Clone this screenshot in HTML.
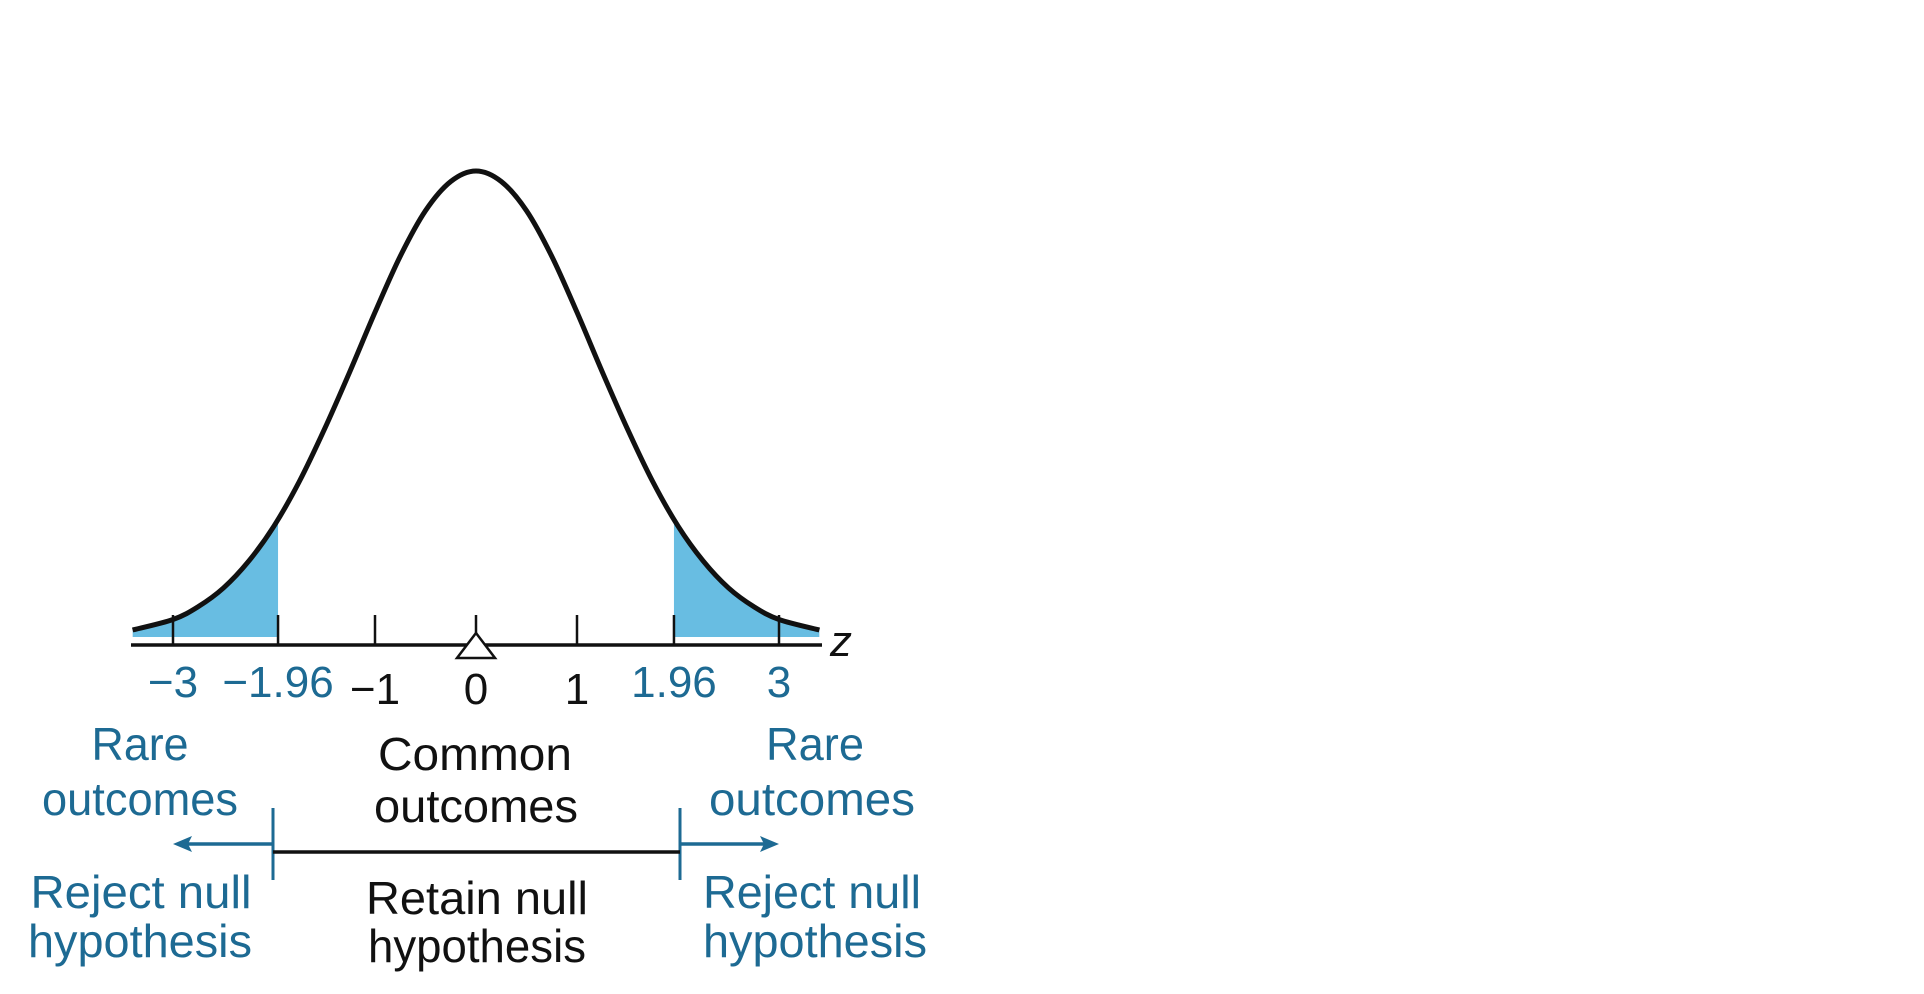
<!DOCTYPE html>
<html><head><meta charset="utf-8"><style>
html,body{margin:0;padding:0;background:#fff;width:1924px;height:994px;overflow:hidden}
svg{display:block}
text{font-family:"Liberation Sans",sans-serif}
.b{fill:#1d6a93}.k{fill:#111}
</style></head><body>
<svg id="chart" width="1924" height="994" viewBox="0 0 1924 994">
<defs><clipPath id="under"><path id="underPath" d=""/></clipPath></defs>
<g id="shade" clip-path="url(#under)"></g>
<path id="curve" fill="none" stroke="#111" stroke-width="5" d=""/>
<line x1="131" y1="645" x2="822" y2="645" stroke="#111" stroke-width="3.5"/>
<g id="ticks"></g>
<polygon points="476,633 457,658 495,658" fill="#fff" stroke="#111" stroke-width="2.5"/>
<text x="830" y="656" font-size="44" font-style="italic" class="k">z</text>
<g id="labels"></g>

<g text-anchor="middle" font-size="46">
<text class="b" x="140" y="760" textLength="97" lengthAdjust="spacingAndGlyphs">Rare</text>
<text class="b" x="140" y="815" textLength="196" lengthAdjust="spacingAndGlyphs">outcomes</text>
<text class="b" x="141" y="908" textLength="221" lengthAdjust="spacingAndGlyphs">Reject null</text>
<text class="b" x="140" y="957" textLength="224" lengthAdjust="spacingAndGlyphs">hypothesis</text>
</g>
<g text-anchor="middle" font-size="46">
<text class="k" x="475" y="770" textLength="194" lengthAdjust="spacingAndGlyphs">Common</text>
<text class="k" x="476" y="822" textLength="204" lengthAdjust="spacingAndGlyphs">outcomes</text>
<text class="k" x="477" y="914" textLength="222" lengthAdjust="spacingAndGlyphs">Retain null</text>
<text class="k" x="477" y="962" textLength="218" lengthAdjust="spacingAndGlyphs">hypothesis</text>
</g>
<g text-anchor="middle" font-size="46">
<text class="b" x="815" y="760" textLength="98" lengthAdjust="spacingAndGlyphs">Rare</text>
<text class="b" x="812" y="815" textLength="206" lengthAdjust="spacingAndGlyphs">outcomes</text>
<text class="b" x="812" y="908" textLength="218" lengthAdjust="spacingAndGlyphs">Reject null</text>
<text class="b" x="815" y="957" textLength="224" lengthAdjust="spacingAndGlyphs">hypothesis</text>
</g>
<g>
<line x1="273" y1="808" x2="273" y2="880" stroke="#1d6a93" stroke-width="3"/>
<line x1="680" y1="808" x2="680" y2="880" stroke="#1d6a93" stroke-width="3"/>
<line x1="273" y1="852" x2="680" y2="852" stroke="#111" stroke-width="3.5"/>
<line x1="273" y1="844" x2="186" y2="844" stroke="#1d6a93" stroke-width="3.5"/>
<polygon points="173,844 192,836 188,844 192,852" fill="#1d6a93"/>
<line x1="680" y1="844" x2="766" y2="844" stroke="#1d6a93" stroke-width="3.5"/>
<polygon points="779,844 760,836 764,844 760,852" fill="#1d6a93"/>
</g>
</svg>
<script>
// curve data, symmetric about 0
const zValues = [-3.4,-3.0,-2.75,-2.5,-2.25,-2.0,-1.75,-1.5,-1.25,-1.0,-0.75,-0.5,-0.25,0,0.25,0.5,0.75,1.0,1.25,1.5,1.75,2.0,2.25,2.5,2.75,3.0,3.4];
const densities = [0.006,0.015,0.026,0.042,0.065,0.095,0.133,0.178,0.227,0.278,0.326,0.365,0.390,0.399,0.390,0.365,0.326,0.278,0.227,0.178,0.133,0.095,0.065,0.042,0.026,0.015,0.006];
const tickValues = [-3,-1.96,-1,0,1,1.96,3];
const tickLabels = ["\u22123","\u22121.96","\u22121","0","1","1.96","3"];
const tickBlue = [true,true,false,false,false,true,true];
const criticalValue = 1.96;

const NS="http://www.w3.org/2000/svg";
const x = z => 476 + z*101;
const y = d => 637 - d*1168;

function spline(pts){
  let d="M"+pts[0][0]+","+pts[0][1];
  for(let i=0;i<pts.length-1;i++){
    const p0=pts[Math.max(0,i-1)],p1=pts[i],p2=pts[i+1],p3=pts[Math.min(pts.length-1,i+2)];
    const c1=[p1[0]+(p2[0]-p0[0])/6,p1[1]+(p2[1]-p0[1])/6];
    const c2=[p2[0]-(p3[0]-p1[0])/6,p2[1]-(p3[1]-p1[1])/6];
    d+=" C"+c1[0]+","+c1[1]+" "+c2[0]+","+c2[1]+" "+p2[0]+","+p2[1];
  }
  return d;
}
const pts = zValues.map((z,i)=>[x(z),y(densities[i])]);
const cd = spline(pts);
document.getElementById('curve').setAttribute('d',cd);
document.getElementById('underPath').setAttribute('d',cd+" L"+x(zValues[zValues.length-1])+",637 L"+x(zValues[0])+",637 Z");

const shade=document.getElementById('shade');
[[zValues[0],-criticalValue],[criticalValue,zValues[zValues.length-1]]].forEach((r,i)=>{
  const rc=document.createElementNS(NS,'rect');
  
  
  rc.setAttribute('x',x(r[0]));rc.setAttribute('width',x(r[1])-x(r[0]));
  rc.setAttribute('y',300);rc.setAttribute('height',338);
  rc.setAttribute('fill','#68bde2');
  shade.appendChild(rc);
});

const ticks=document.getElementById('ticks'), labels=document.getElementById('labels');
tickValues.forEach((v,i)=>{
  const l=document.createElementNS(NS,'line');
  
  
  l.setAttribute('x1',x(v));l.setAttribute('x2',x(v));l.setAttribute('y1',615);l.setAttribute('y2',645);
  l.setAttribute('stroke','#111');l.setAttribute('stroke-width','2.5');
  ticks.appendChild(l);
  const t=document.createElementNS(NS,'text');
  
  
  t.setAttribute('x',x(v));t.setAttribute('y',tickBlue[i]?697:704);
  t.setAttribute('text-anchor','middle');t.setAttribute('font-size','44');
  t.setAttribute('class',tickBlue[i]?'b':'k');
  t.textContent=tickLabels[i];
  labels.appendChild(t);
});
</script>
</body></html>
